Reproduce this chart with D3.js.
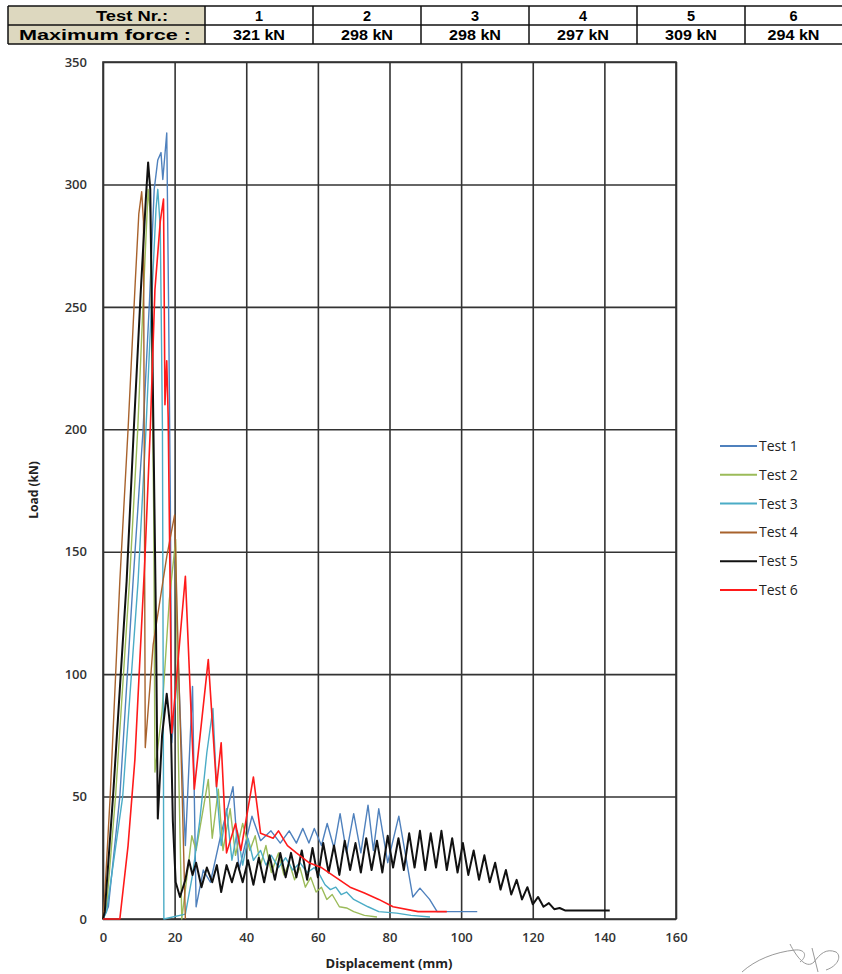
<!DOCTYPE html>
<html>
<head>
<meta charset="utf-8">
<script src="https://cdn.jsdelivr.net/npm/d3@7"></script>
<style>
  body { margin: 0; background: #fff; }
  svg { display: block; }
</style>
</head>
<body>
<div id="chart"></div>
<script>
////////////////////////////////////////////////////////////////////////
// Data

// table at the top
let tableHead = ["Test Nr.:", "Maximum force :"];
let testNrs = ["1", "2", "3", "4", "5", "6"];
let maxForces = ["321 kN", "298 kN", "298 kN", "297 kN", "309 kN", "294 kN"];

// axis ticks
let xTicks = [0, 20, 40, 60, 80, 100, 120, 140, 160];
let yTicks = [0, 50, 100, 150, 200, 250, 300, 350];

let seriesNames = ["Test 1", "Test 2", "Test 3", "Test 4", "Test 5", "Test 6"];

// each point is [displacement (mm), load (kN)]
let test1 = [[0, 0], [1.5, 5], [4.7, 50], [8.4, 138], [11.2, 200], [13, 253], [14.3, 298], [15.3, 310],
  [16.2, 313], [16.7, 302], [17.8, 321], [18.3, 253], [18.8, 171], [19.2, 72], [21, 104], [23, 30],
  [25, 95], [26, 5], [28, 20], [30, 15], [33, 35], [36.3, 54], [38, 20], [41.6, 42], [44, 32],
  [46.9, 36], [49.5, 31], [52, 36], [54, 31], [55.8, 37], [57.5, 31], [59, 37], [61, 30], [62.6, 39],
  [64.5, 29], [66.2, 43], [68, 27], [70, 43], [72, 27], [74, 46.5], [75.5, 28], [77, 45], [79.5, 23],
  [82.6, 42], [86.5, 9], [88.5, 12.6], [91.2, 8], [93.3, 3], [104.5, 3]];

let test2 = [[0, 0], [1, 5], [3.5, 50], [7.4, 138], [9.7, 200], [11.5, 262], [12.6, 298], [13.2, 288],
  [14.2, 160], [14.5, 60], [16.5, 85], [18.5, 130], [20.3, 155], [21, 70], [22, 0], [23, 12],
  [24.8, 34], [26, 28], [29.4, 57], [30.5, 33], [32.2, 53], [33.5, 28], [35.5, 45], [37, 26], [39, 39],
  [41, 28], [42.5, 34], [44, 22], [45.5, 30], [47, 19], [49, 27], [50.5, 18], [52, 23], [53.5, 16],
  [55, 21], [56.5, 13], [58, 17], [59.5, 11], [61, 13], [62.5, 8], [64, 10], [66, 5], [68, 4.5],
  [70, 3], [73, 1.5], [76.5, 0.8]];

let test3 = [[0, 0], [1, 3], [5.5, 50], [9.8, 138], [12, 200], [13.5, 250], [14.8, 290], [15.3, 298],
  [16, 282], [16.6, 200], [17, 0], [23, 2], [25, 18], [27, 40], [29, 68], [30.7, 86], [31.7, 54],
  [33, 30], [34.5, 45], [36, 24], [37.5, 36], [39, 22], [40.5, 33], [42, 24], [44, 28], [45.5, 22],
  [47, 26], [49, 21], [51, 25], [53, 20], [55, 23], [57, 19], [59, 21], [60.5, 18], [62, 14],
  [63.5, 12], [65, 13], [66.5, 10], [68, 11], [70, 8], [72, 6.5], [74, 5], [77, 3], [82, 2.4],
  [86, 1.5], [91.3, 0.8]];

let test4 = [[0, 0], [0.5, 10], [2, 50], [4.7, 138], [7, 200], [9, 260], [10, 288], [10.8, 297],
  [11.3, 285], [11.8, 70], [14, 112], [17.8, 148], [20, 165], [20.8, 120], [22, 57], [23, 0]];

let test5 = [[0, 0], [0.5, 3], [2.8, 50], [6.6, 138], [8.6, 200], [10.5, 255], [12, 295], [12.6, 309],
  [13.2, 298], [14.8, 120], [15.3, 41], [16.5, 75], [17.8, 92], [19, 75], [19.5, 40], [20.3, 15],
  [21.5, 9], [23, 16], [24, 24], [25, 18], [26, 23], [27.5, 13], [29, 21], [30.5, 15], [31.8, 22],
  [33, 11], [34.5, 22], [36, 15], [37.5, 23], [39, 15], [40.5, 24], [42, 14], [43.5, 25], [45, 15],
  [46.5, 26], [48, 16], [49.5, 27], [51, 17], [52.5, 27], [54, 17], [55.5, 28], [57, 16], [58.5, 29],
  [60, 17], [61.5, 31], [63, 19], [64.5, 30], [66, 18], [67.5, 32], [69, 20], [70.5, 31], [72, 19],
  [73.5, 33], [75, 20], [76.5, 32], [78, 19], [79.5, 34], [81, 21], [82.5, 33], [84, 20], [85.5, 35],
  [87, 21], [88.5, 36], [90, 20], [91.5, 35], [93, 21], [94.5, 36], [96, 20], [97.5, 33], [99, 19],
  [100.5, 31], [102, 18], [103.5, 28], [105, 16], [106.5, 26], [108, 15], [109.5, 23], [111, 12],
  [112.5, 20], [114, 10], [115.5, 16], [117, 8], [118.5, 13], [120, 6], [121.5, 9], [123, 5],
  [124.5, 6.5], [126, 4], [127.5, 4.5], [129, 3.5], [141.5, 3.5]];

let test6 = [[0, 0], [4.7, 0], [7, 30], [8.9, 65], [11.7, 147], [13.2, 200], [14.5, 257], [16, 285],
  [16.9, 294], [17.3, 210], [17.8, 228], [18.2, 205], [19.2, 76], [23, 140], [25.5, 53], [29.4, 106],
  [31.7, 54], [33, 72], [34.5, 27], [37, 39], [38.5, 28], [42, 58], [44, 35], [47.5, 33], [49, 36],
  [51.5, 30], [54, 27], [57.5, 23], [61, 21], [65, 17], [69, 13], [73, 10.6], [77, 8], [81, 5],
  [88, 3], [96, 3]];

let allTests = [test1, test2, test3, test4, test5, test6];


////////////////////////////////////////////////////////////////////////
// Layout

let width = 842;
let height = 974;
let plotLeft = 103, plotRight = 676, plotTop = 62, plotBottom = 919;

let colors = ["#4f81bd", "#9bbb59", "#4bacc6", "#a8622c", "#111111", "#ff1a1a"];
let widths = [1.4, 1.4, 1.4, 1.4, 2, 1.6];

let svg = d3.select("#chart")
  .append("svg")
  .attr("width", width)
  .attr("height", height);

let xScale = d3.scaleLinear().domain([0, 160]).range([plotLeft, plotRight]);
let yScale = d3.scaleLinear().domain([0, 350]).range([plotBottom, plotTop]);


////////////////////////////////////////////////////////////////////////
// Table at the top

function drawTable() {
  let rowY = [6, 25, 44];
  let colX = [8, 205, 313, 421, 529, 637, 745, 853];
  let t = svg.append("g").attr("class", "table");

  t.append("rect")
    .attr("x", colX[0]).attr("y", rowY[0])
    .attr("width", colX[1] - colX[0]).attr("height", rowY[2] - rowY[0])
    .attr("fill", "#ddd8bf");

  // horizontal lines
  t.selectAll("line.h")
    .data(rowY)
    .enter()
    .append("line")
    .attr("x1", colX[0]).attr("x2", width)
    .attr("y1", d => d).attr("y2", d => d)
    .attr("stroke", "#111").attr("stroke-width", 1.5);

  // vertical lines
  t.selectAll("line.v")
    .data(colX)
    .enter()
    .append("line")
    .attr("x1", d => d).attr("x2", d => d)
    .attr("y1", rowY[0]).attr("y2", rowY[2])
    .attr("stroke", "#111").attr("stroke-width", 1.5);

  let font = "'Liberation Sans', Arial, sans-serif";

  t.selectAll("text.head")
    .data(tableHead)
    .enter()
    .append("text")
    .attr("x", (d, i) => i == 0 ? 168 : 191)
    .attr("y", (d, i) => rowY[i] + 15)
    .attr("text-anchor", "end")
    .attr("font-family", font).attr("font-weight", "bold").attr("font-size", 14.5)
    .attr("textLength", (d, i) => i == 0 ? 72 : 172)
    .attr("lengthAdjust", "spacingAndGlyphs")
    .text(d => d);

  t.selectAll("text.nr")
    .data(testNrs)
    .enter()
    .append("text")
    .attr("x", (d, i) => (colX[i + 1] + Math.min(colX[i + 2], width)) / 2)
    .attr("y", rowY[0] + 15)
    .attr("text-anchor", "middle")
    .attr("font-family", font).attr("font-weight", "bold").attr("font-size", 14.5)
    .text(d => d);

  t.selectAll("text.force")
    .data(maxForces)
    .enter()
    .append("text")
    .attr("x", (d, i) => (colX[i + 1] + Math.min(colX[i + 2], width)) / 2 - 26)
    .attr("y", rowY[1] + 15)
    .attr("font-family", font).attr("font-weight", "bold").attr("font-size", 14.5)
    .attr("textLength", 52)
    .attr("lengthAdjust", "spacingAndGlyphs")
    .text(d => d);
}


////////////////////////////////////////////////////////////////////////
// Axes, grid, lines and legend

function drawChart() {
  let tickFont = "'Open Sans', sans-serif";

  // gridlines
  svg.append("g")
    .attr("class", "xgrid")
    .attr("transform", "translate(0," + plotBottom + ")")
    .call(d3.axisBottom(xScale).tickValues(xTicks).tickSize(-(plotBottom - plotTop)).tickFormat(""))
    .call(g => g.select(".domain").remove())
    .selectAll("line").attr("stroke", "#333").attr("stroke-width", 1.6);

  svg.append("g")
    .attr("class", "ygrid")
    .attr("transform", "translate(" + plotLeft + ",0)")
    .call(d3.axisLeft(yScale).tickValues(yTicks).tickSize(-(plotRight - plotLeft)).tickFormat(""))
    .call(g => g.select(".domain").remove())
    .selectAll("line").attr("stroke", "#333").attr("stroke-width", 1.6);

  svg.append("rect")
    .attr("x", plotLeft).attr("y", plotTop)
    .attr("width", plotRight - plotLeft).attr("height", plotBottom - plotTop)
    .attr("fill", "none").attr("stroke", "#333").attr("stroke-width", 1.6);

  // tick labels
  let xAxis = svg.append("g")
    .attr("transform", "translate(0," + plotBottom + ")")
    .call(d3.axisBottom(xScale).tickValues(xTicks).tickSize(0).tickPadding(14));
  xAxis.select(".domain").remove();
  xAxis.selectAll("text")
    .attr("font-family", tickFont).attr("font-size", 13).attr("font-weight", 600).attr("fill", "#333");

  let yAxis = svg.append("g")
    .attr("transform", "translate(" + plotLeft + ",0)")
    .call(d3.axisLeft(yScale).tickValues(yTicks).tickSize(0).tickPadding(16));
  yAxis.select(".domain").remove();
  yAxis.selectAll("text")
    .attr("font-family", tickFont).attr("font-size", 13).attr("font-weight", 600).attr("fill", "#333");

  // axis titles
  svg.append("text")
    .attr("x", 389).attr("y", 968)
    .attr("text-anchor", "middle")
    .attr("font-family", tickFont).attr("font-size", 13).attr("font-weight", "bold").attr("fill", "#222")
    .text("Displacement (mm)");

  svg.append("text")
    .attr("transform", "translate(38,490) rotate(-90)")
    .attr("text-anchor", "middle")
    .attr("font-family", tickFont).attr("font-size", 12).attr("font-weight", "bold").attr("fill", "#222")
    .text("Load (kN)");

  // the test curves
  let lineCreator = d3.line()
    .x(d => xScale(d[0]))
    .y(d => yScale(d[1]));

  svg.append("g")
    .attr("class", "curves")
    .selectAll("path")
    .data(allTests)
    .enter()
    .append("path")
    .attr("d", lineCreator)
    .attr("fill", "none")
    .attr("stroke", (d, i) => colors[i])
    .attr("stroke-width", (d, i) => widths[i])
    .attr("stroke-linejoin", "round");

  // legend
  let legend = svg.append("g")
    .attr("class", "legend")
    .selectAll("g")
    .data(seriesNames)
    .enter()
    .append("g")
    .attr("transform", (d, i) => "translate(720," + (446 + i * 28.8) + ")");

  legend.append("line")
    .attr("x1", 0).attr("x2", 37)
    .attr("stroke", (d, i) => colors[i])
    .attr("stroke-width", 2);

  legend.append("text")
    .attr("x", 39).attr("y", 5)
    .attr("font-family", tickFont).attr("font-size", 14).attr("fill", "#222")
    .text(d => d);

  // signature scribble in the corner
  svg.append("path")
    .attr("d", "M742,972 C755,960 775,952 795,950 C805,949 808,956 800,962 M790,944 C796,956 806,970 814,962 C820,954 826,948 836,952 C842,956 838,966 826,970 M812,948 L818,972")
    .attr("fill", "none").attr("stroke", "#999").attr("stroke-width", 1);
}

drawTable();
drawChart();
</script>
</body>
</html>
